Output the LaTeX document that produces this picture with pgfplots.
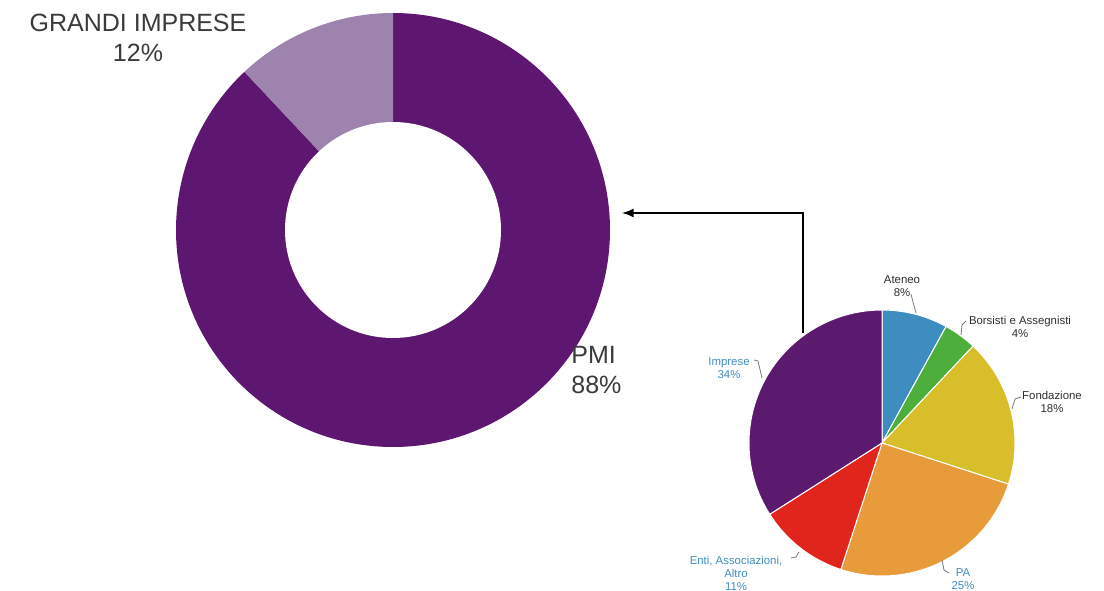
\documentclass[border=0pt]{standalone}
\usepackage{pgfplots}
\pgfplotsset{compat=1.18}
\usepackage{pgfplotstable}
\usepackage{fontspec}
\setmainfont{Liberation Sans}

\definecolor{bc0}{HTML}{5E1770}
\definecolor{bc1}{HTML}{9D83AE}
\definecolor{sc0}{HTML}{3D8DC0}
\definecolor{sc1}{HTML}{4DAE3C}
\definecolor{sc2}{HTML}{D8BE2A}
\definecolor{sc3}{HTML}{E89B3A}
\definecolor{sc4}{HTML}{E0261C}
\definecolor{sc5}{HTML}{5C1A6E}
\definecolor{bigtxt}{HTML}{3A3A3A}
\definecolor{smtxt}{HTML}{2E2E2E}
\definecolor{bluetxt}{HTML}{3F8CC0}
\definecolor{leader}{HTML}{7A7A7A}

% big donut, clockwise from top: PMI, GRANDI IMPRESE
\pgfplotstableread{
idx value
0 88
1 12
}\bigpie
% small pie, clockwise from top
\pgfplotstableread{
idx value
0 8
1 4
2 18
3 25
4 11
5 34
}\smallpie

\newcommand\pieangles[2]{%
  \pgfplotstablegetrowsof{#1}%
  \pgfmathtruncatemacro\pienrows{\pgfplotsretval-1}%
  \def\piecum{0}%
  \pgfplotsforeachungrouped \i in {0,...,\pienrows}{%
    \pgfplotstablegetelem{\i}{value}\of#1%
    \pgfmathsetmacro\piestart{90-3.6*\piecum}%
    \pgfmathsetmacro\piecum{\piecum+\pgfplotsretval}%
    \pgfmathsetmacro\pieend{90-3.6*\piecum}%
    \expandafter\xdef\csname #2s\i\endcsname{\piestart}%
    \expandafter\xdef\csname #2e\i\endcsname{\pieend}%
  }%
}

\begin{document}
\begin{tikzpicture}
\pieangles{\bigpie}{bb}
\pieangles{\smallpie}{ss}
\begin{axis}[x=0.5pt, y=0.5pt, xmin=0, xmax=1104, ymin=0, ymax=590,
  hide axis, clip=false]
% big donut
\pgfplotsinvokeforeach{0,1}{
  \fill[bc#1] (axis cs:393,360) -- ++({\csname bbs#1\endcsname}:108.5pt)
    arc[start angle=\csname bbs#1\endcsname, end angle=\csname bbe#1\endcsname, radius=108.5pt] -- cycle;
}
\fill[white] (axis cs:393,360) circle[radius=54pt];
% small pie
\pgfplotsinvokeforeach{0,...,5}{
  \filldraw[fill=sc#1, draw=white, line width=0.5pt] (axis cs:882,147) -- ++({\csname sss#1\endcsname}:66.5pt)
    arc[start angle=\csname sss#1\endcsname, end angle=\csname sse#1\endcsname, radius=66.5pt] -- cycle;
}
% arrow
\draw[-latex, line width=1pt] (axis cs:803,257) |- (axis cs:622,377);
% big labels
\node[align=center, text=bigtxt, font=\fontsize{12.5}{15}\selectfont] at (axis cs:138,552) {GRANDI IMPRESE\\12\%};
\node[align=left, anchor=west, text=bigtxt, font=\fontsize{12.5}{15}\selectfont, inner sep=0pt] at (axis cs:571,220) {PMI\\88\%};
% small labels
\begin{scope}[every node/.style={align=center, inner sep=0pt, font=\fontsize{5.7}{6.5}\selectfont}]
\node[text=smtxt] at (axis cs:902,304) {Ateneo\\8\%};
\node[text=smtxt] at (axis cs:1020,263) {Borsisti e Assegnisti\\4\%};
\node[text=smtxt] at (axis cs:1052,188) {Fondazione\\18\%};
\node[text=bluetxt] at (axis cs:963,11) {PA\\25\%};
\node[text=bluetxt] at (axis cs:729,222) {Imprese\\34\%};
\node[text=bluetxt] at (axis cs:736,17) {Enti, Associazioni,\\Altro\\11\%};
\end{scope}
% leader lines
\begin{scope}[leader, line width=0.4pt]
\draw (axis cs:911,296) -- (axis cs:913,288) -- (axis cs:916,277);
\draw (axis cs:966,269) -- (axis cs:962,265) -- (axis cs:961,255);
\draw (axis cs:1021,193) -- (axis cs:1015,191) -- (axis cs:1012,181);
\draw (axis cs:949,17) -- (axis cs:944,20) -- (axis cs:942,30);
\draw (axis cs:754,230) -- (axis cs:758,229) -- (axis cs:762,212);
\draw (axis cs:791,32) -- (axis cs:796,33) -- (axis cs:799,38);
\end{scope}
\end{axis}
\pgfresetboundingbox
\path[use as bounding box] (current axis.south west) rectangle (current axis.north east);
\end{tikzpicture}
\end{document}
